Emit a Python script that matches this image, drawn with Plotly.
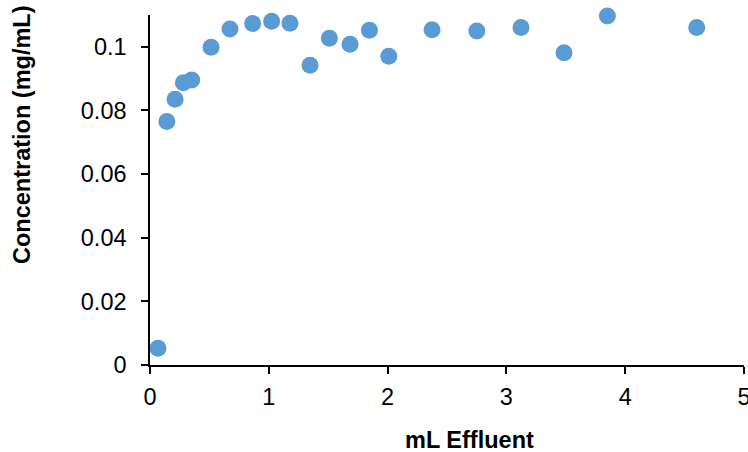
import plotly.graph_objects as go

ml_effluent = [0.067, 0.142, 0.211, 0.281, 0.351, 0.514, 0.673, 0.864, 1.024, 1.178,
               1.347, 1.510, 1.684, 1.847, 2.010, 2.374, 2.751, 3.123, 3.485, 3.850, 4.602]
concentration = [0.0053, 0.0765, 0.0835, 0.0887, 0.0896, 0.0999, 0.1056, 0.1073, 0.1080, 0.1074,
                  0.0942, 0.1027, 0.1008, 0.1052, 0.0970, 0.1054, 0.1050, 0.1061, 0.0981, 0.1097, 0.1061]

x_ticks = [0, 1, 2, 3, 4, 5]
y_ticks = [0, 0.02, 0.04, 0.06, 0.08, 0.1]
y_tick_labels = ["0", "0.02", "0.04", "0.06", "0.08", "0.1"]

W, H = 748, 452
L, R, T, B = 150, 4, 15, 87
plot_w = W - L - R
plot_h = H - T - B

fig = go.Figure(go.Scatter(
    x=ml_effluent, y=concentration, mode="markers",
    marker=dict(size=17, color="#5B9BD5", line=dict(width=0)),
    cliponaxis=False,
))

fig.update_layout(
    width=W, height=H,
    margin=dict(l=L, r=R, t=T, b=B),
    paper_bgcolor="white", plot_bgcolor="white",
    font=dict(family="Liberation Sans, Arial", size=23.5, color="black"),
    showlegend=False,
)
fig.add_annotation(text="<b>mL Effluent</b>",
                   x=(469.5 - L) / plot_w, xref="paper",
                   y=(H - B - 440) / plot_h, yref="paper",
                   showarrow=False, font=dict(size=23.5),
                   xanchor="center", yanchor="middle")
fig.add_annotation(text="<b>Concentration (mg/mL)</b>", textangle=-90,
                   x=(22 - L) / plot_w, xref="paper",
                   y=(H - B - 135) / plot_h, yref="paper",
                   showarrow=False, font=dict(size=23.5),
                   xanchor="center", yanchor="middle")

fig.update_xaxes(
    range=[0, 5], tickvals=x_ticks, ticks="outside", ticklen=7, tickwidth=1.5,
    tickcolor="black", showline=True, linecolor="black", linewidth=1.5,
    showgrid=False, zeroline=False, ticklabeloverflow="allow", automargin=False,
    ticklabelstandoff=3,
)
fig.update_yaxes(
    range=[0, 0.11], tickvals=y_ticks, ticktext=y_tick_labels, ticks="outside",
    ticklen=7, tickwidth=1.5, tickcolor="black", showline=True, linecolor="black",
    linewidth=1.5, showgrid=False, zeroline=False, ticklabeloverflow="allow",
    automargin=False, ticklabelstandoff=10,
)

fig.write_html("out.html")
